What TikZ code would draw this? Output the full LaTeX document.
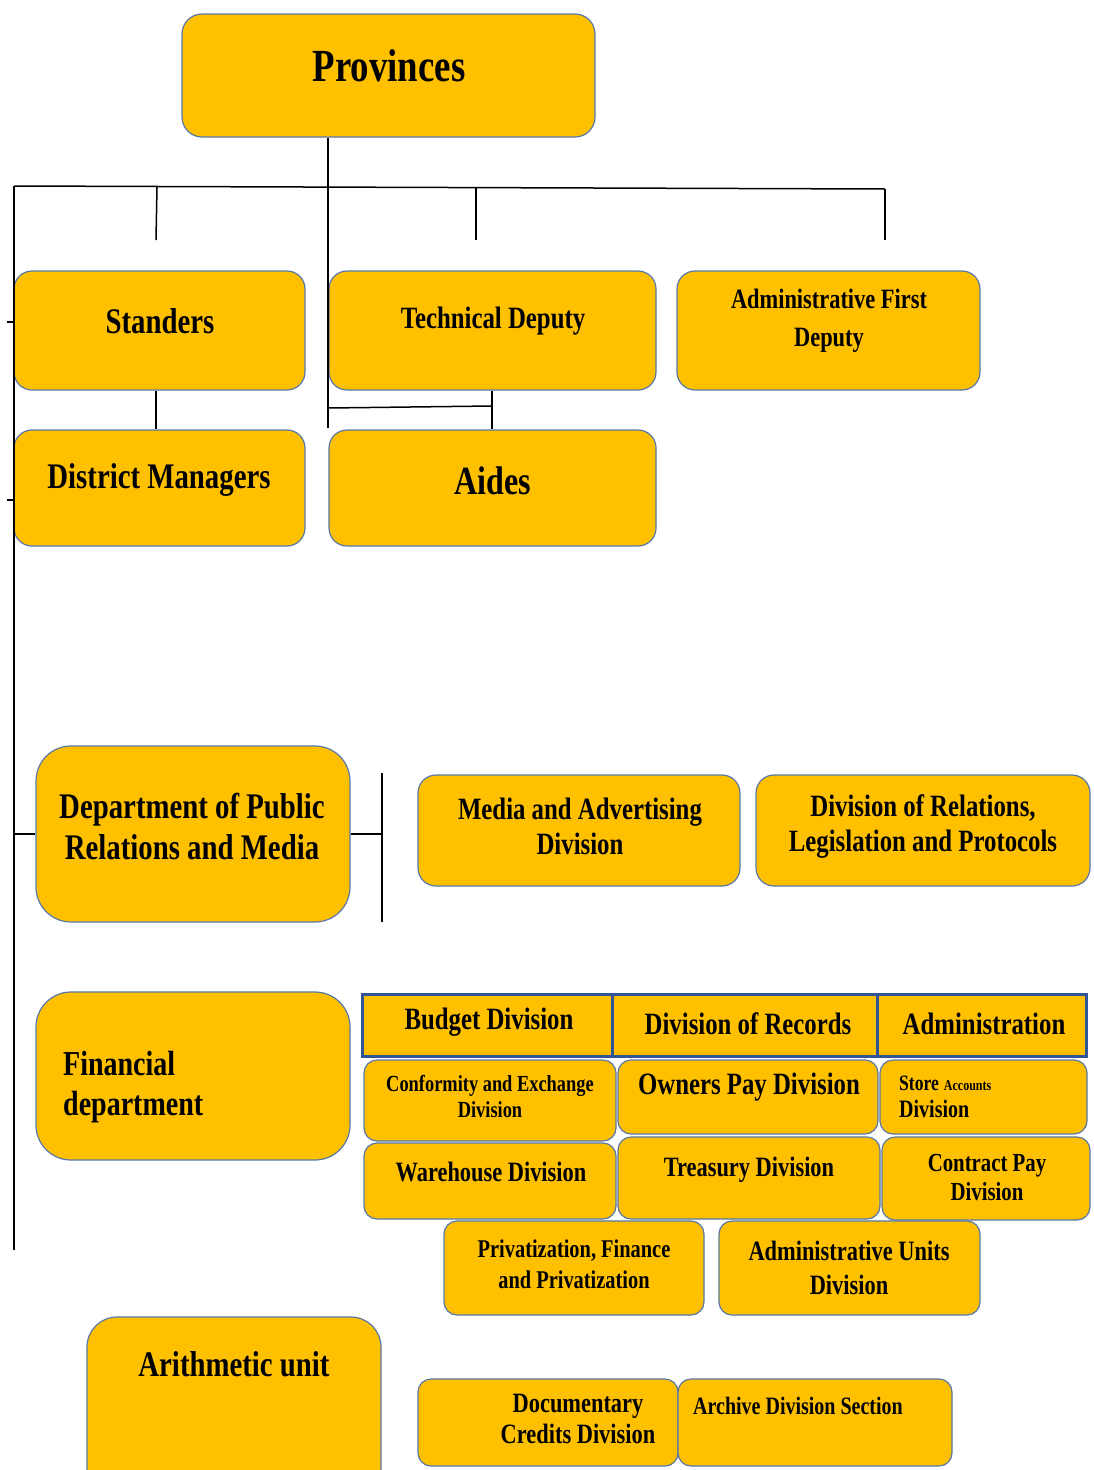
\documentclass[tikz,border=0pt]{standalone}
\usepackage{fontspec}
\setmainfont{Liberation Serif}[FakeStretch=0.8]
\usetikzlibrary{calc}
\definecolor{gold}{HTML}{FFC000}
\definecolor{edge}{HTML}{5878A8}
\definecolor{blueedge}{HTML}{2F5597}
\newcommand\fs[2]{\fontsize{#1}{#2}\selectfont\bfseries}
\tikzset{
  box/.style={draw=edge, line width=1.2pt, fill=gold, rounded corners=18pt, inner sep=0pt},
  sbox/.style={box, rounded corners=13pt},
  cellbox/.style={draw=blueedge, line width=3pt, fill=gold, sharp corners, inner sep=0pt},
  txt/.style={inner sep=0pt, align=center, text=black},
  conn/.style={draw=black, line width=1.5pt},
}
\begin{document}
\begin{tikzpicture}[x=1pt,y=-1pt]
\useasboundingbox (0,0) rectangle (1094,1470);
\fill[white] (0,0) rectangle (1094,1470);

% ---- boxes ----
\node[box, rounded corners=20pt, minimum width=413pt, minimum height=123pt] (prov) at (388.5,75.5) {};
\node[box, minimum width=291pt, minimum height=119pt] (standers) at (159.5,330.5) {};
\node[box, minimum width=327pt, minimum height=119pt] (tech) at (492.5,330.5) {};
\node[box, minimum width=303pt, minimum height=119pt] (admfirst) at (828.5,330.5) {};
\node[box, minimum width=291pt, minimum height=116pt] (district) at (159.5,488) {};
\node[box, minimum width=327pt, minimum height=116pt] (aides) at (492.5,488) {};
\node[box, rounded corners=35pt, minimum width=314pt, minimum height=176pt] (dept) at (193,834) {};
\node[box, minimum width=322pt, minimum height=111pt] (media) at (579,830.5) {};
\node[box, minimum width=334pt, minimum height=111pt] (relations) at (923,830.5) {};
\node[box, rounded corners=35pt, minimum width=314pt, minimum height=168pt] (fin) at (193,1076) {};
\node[sbox, minimum width=252pt, minimum height=81pt] (conf) at (490,1100.5) {};
\node[sbox, minimum width=260pt, minimum height=74pt] (owners) at (748,1097) {};
\node[sbox, minimum width=207pt, minimum height=74pt] (store) at (983.5,1097) {};
\node[sbox, minimum width=252pt, minimum height=76pt] (ware) at (490,1181) {};
\node[sbox, minimum width=262pt, minimum height=82pt] (treas) at (749,1178) {};
\node[sbox, minimum width=208pt, minimum height=83pt] (contract) at (986,1178.5) {};
\node[sbox, minimum width=260pt, minimum height=94pt] (priv) at (574,1268) {};
\node[sbox, minimum width=261pt, minimum height=94pt] (adunits) at (849.5,1268) {};
\node[box, rounded corners=30pt, minimum width=294pt, minimum height=183pt] (arith) at (234,1408.5) {};
\node[sbox, minimum width=260pt, minimum height=87pt] (docu) at (548,1422.5) {};
\node[sbox, minimum width=274pt, minimum height=87pt] (archive) at (815,1422.5) {};
\node[cellbox, minimum width=250pt, minimum height=62pt] (budget) at (487,1025) {};
\node[cellbox, minimum width=265pt, minimum height=62pt] (records) at (744.5,1025) {};
\node[cellbox, minimum width=209pt, minimum height=62pt] (admin) at (981.5,1025) {};

% ---- texts ----
\node[txt, font=\fs{46}{52}] (provT) at (389,66) {Provinces};
\node[txt, font=\fs{36}{41}] (standersT) at (160,321) {Standers};
\node[txt, font=\fs{31}{36}] (techT) at (493,321) {Technical Deputy};
\node[txt, font=\fs{28}{38}] (admfirstT) at (829,321) {Administrative First\\Deputy};
\node[txt, font=\fs{36}{41}] (districtT) at (159,480) {District Managers};
\node[txt, font=\fs{40}{45}] (aidesT) at (493,481) {Aides};
\node[txt, font=\fs{36}{41}] (deptT) at (192,826) {Department of Public\\Relations and Media};
\node[txt, font=\fs{31}{35}] (mediaT) at (580,826) {Media and Advertising\\Division};
\node[txt, font=\fs{31}{35}] (relationsT) at (923,826) {Division of Relations,\\Legislation and Protocols};
\node[txt, font=\fs{35}{40}, align=left, anchor=west] (finT) at (63,1087) {Financial\\department};
\node[txt, font=\fs{31}{35}] (budgetT) at (489,1022) {Budget Division};
\node[txt, font=\fs{31}{35}] (recordsT) at (748,1024) {Division of Records};
\node[txt, font=\fs{31}{35}] (adminT) at (984,1024) {Administration};
\node[txt, font=\fs{23}{26}] (confT) at (490,1097) {Conformity and Exchange\\Division};
\node[txt, font=\fs{31}{35}] (ownersT) at (749,1087) {Owners Pay Division};
\node[txt, font=\fs{25}{27}, align=left, anchor=west] (storeT) at (899,1097) {{\fs{22}{27}Store} {\fs{15}{27}Accounts}\\Division};
\node[txt, font=\fs{28}{32}] (wareT) at (491,1172) {Warehouse Division};
\node[txt, font=\fs{28}{32}] (treasT) at (749,1170) {Treasury Division};
\node[txt, font=\fs{26}{29}] (contractT) at (987,1178) {Contract Pay\\Division};
\node[txt, font=\fs{25.5}{31}] (privT) at (574,1264) {Privatization, Finance\\and Privatization};
\node[txt, font=\fs{28}{34}] (adunitsT) at (849,1268) {Administrative Units\\Division};
\node[txt, font=\fs{36}{41}] (arithT) at (234,1364) {Arithmetic unit};
\node[txt, font=\fs{28}{31}] (docuT) at (578,1419) {Documentary\\Credits Division};
\node[txt, font=\fs{25}{30}, anchor=west] (archiveT) at (693,1406) {Archive Division Section};

% ---- connector coordinates ----
\coordinate (busL) at (14,186);
\coordinate (busR) at (885,189);
\coordinate (spineEnd) at (14,1250);
\coordinate (provDrop) at (328,428);
\coordinate (d1top) at (157,187);
\coordinate (d1bot) at (156,240);
\coordinate (d2top) at (476,188);
\coordinate (d2bot) at (476,240);
\coordinate (d3bot) at (885,240);
\coordinate (hA) at (328,408);
\coordinate (hB) at (492,406);
\coordinate (tick1a) at (7,322);
\coordinate (tick1b) at (14,322);
\coordinate (tick2a) at (7,500);
\coordinate (tick2b) at (14,500);
\coordinate (deptL) at (14,834);
\coordinate (deptR) at (382,834);
\coordinate (barTop) at (382,773);
\coordinate (barBot) at (382,922);

% ---- connectors ----
\draw[conn] (prov.south -| provDrop) -- (provDrop);
\draw[conn] (busL) -- (busR);
\draw[conn] (busL) -- (spineEnd);
\draw[conn] (d1top) -- (d1bot);
\draw[conn] (d2top) -- (d2bot);
\draw[conn] (busR) -- (d3bot);
\draw[conn] (standers.south -| d1bot) -- (district.north -| d1bot);
\draw[conn, line width=2.2pt] (tech.south -| hB) -- (aides.north -| hB);
\draw[conn] (hA) -- (hB);
\draw[conn] (tick1a) -- (tick1b);
\draw[conn] (tick2a) -- (tick2b);
\draw[conn] (deptL) -- (dept.west);
\draw[conn] (dept.east) -- (deptR);
\draw[conn] (barTop) -- (barBot);
\end{tikzpicture}
\end{document}
